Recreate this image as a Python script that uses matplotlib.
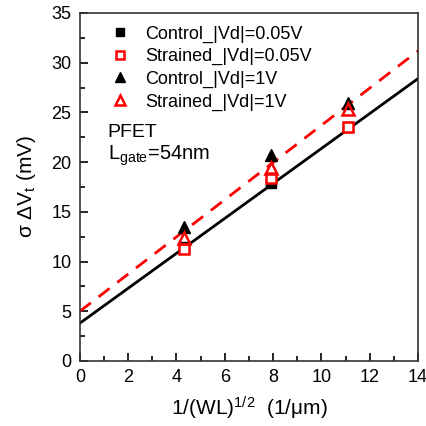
import numpy as np
import matplotlib
matplotlib.use('Agg')
import matplotlib.pyplot as plt
from matplotlib.ticker import MultipleLocator

plt.rcParams['font.family'] = ['Liberation Sans', 'DejaVu Sans']
plt.rcParams['mathtext.fontset'] = 'custom'
plt.rcParams['mathtext.rm'] = 'Liberation Sans'
plt.rcParams['mathtext.it'] = 'Liberation Sans'
plt.rcParams['mathtext.default'] = 'regular'

# 1/sqrt(WL) for the three device sizes
inv_sqrt_wl = np.array([4.3, 7.9, 11.1])

control_005 = np.array([11.5, 17.9, 23.5])
strained_005 = np.array([11.3, 18.4, 23.5])
control_1 = np.array([13.5, 20.7, 25.9])
strained_1 = np.array([12.4, 19.4, 25.3])

# linear fits (intercept, slope)
control_fit = (3.8, 1.757)
strained_fit = (5.0, 1.87)

fig = plt.figure(figsize=(4.27, 4.26), dpi=100)
ax = fig.add_axes([0.187, 0.1526, 0.792, 0.817])

xfit = np.array([0, 14])
ax.plot(xfit, control_fit[0] + control_fit[1] * xfit, color='black', lw=2)
ax.plot(xfit, strained_fit[0] + strained_fit[1] * xfit, color='red', lw=2,
        dashes=(5, 3.5))

ax.plot(inv_sqrt_wl, control_005, 's', color='black', ms=7, ls='none',
        label='Control_|Vd|=0.05V')
ax.plot(inv_sqrt_wl, strained_005, 's', mfc='white', mec='red', mew=1.8,
        ms=7, ls='none', label='Strained_|Vd|=0.05V')
ax.plot(inv_sqrt_wl, control_1, '^', color='black', ms=9, ls='none',
        label='Control_|Vd|=1V')
ax.plot(inv_sqrt_wl, strained_1, '^', mfc='none', mec='red', mew=1.8,
        ms=9, ls='none', label='Strained_|Vd|=1V')

ax.set_xlim(0, 14)
ax.set_ylim(0, 35)
ax.xaxis.set_major_locator(MultipleLocator(2))
ax.xaxis.set_minor_locator(MultipleLocator(1))
ax.yaxis.set_major_locator(MultipleLocator(5))
ax.yaxis.set_minor_locator(MultipleLocator(2.5))
ax.tick_params(which='both', direction='in', top=False, right=False,
               labelsize=13, width=1.2, pad=6)
ax.tick_params(which='major', length=6)
ax.tick_params(which='minor', length=3.5)
for s in ax.spines.values():
    s.set_linewidth(1.2)
    s.set_color('#333333')

ax.set_xlabel(r'1/(WL)$^{1/2}$  (1/$\mu$m)', fontsize=15, labelpad=6)
ax.set_ylabel(r'$\sigma$ $\Delta$V$_t$ (mV)', fontsize=15, labelpad=10)

ax.legend(loc='upper left', bbox_to_anchor=(0.05, 1.0), frameon=False,
          fontsize=13, handletextpad=0.8, labelspacing=0.3,
          borderaxespad=0.3, handlelength=1.2, markerscale=0.85)
ax.text(1.15, 22.5, 'PFET', fontsize=14)
ax.text(1.15, 20.2, r'L$_{gate}$=54nm', fontsize=14.5)

fig.savefig('out.png', dpi=100)
